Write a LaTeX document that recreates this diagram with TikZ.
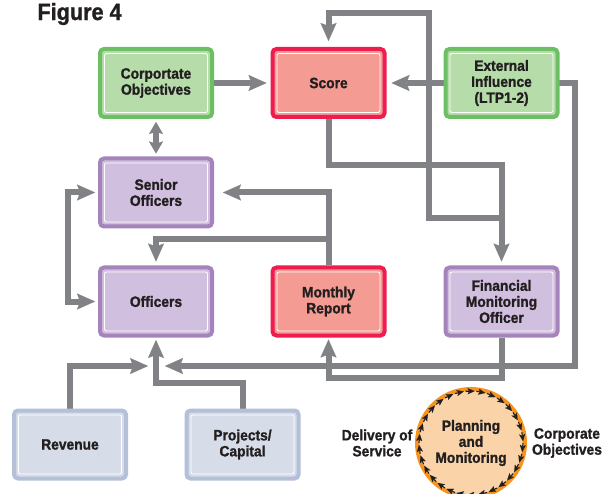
\documentclass[tikz,border=0pt]{standalone}
\usepackage{fontspec}
\setmainfont[FakeStretch=0.92, BoldFeatures={FakeBold=1.3}]{Liberation Sans}
\usetikzlibrary{arrows.meta,calc}
\pgfdeclarelayer{paper}
\pgfdeclarelayer{bg}
\pgfsetlayers{paper,bg,main}

\definecolor{ink}{HTML}{231F20}
\definecolor{wire}{HTML}{808285}
\definecolor{greenfill}{HTML}{B6DCAA}
\definecolor{greenline}{HTML}{6CC063}
\definecolor{redfill}{HTML}{F49C94}
\definecolor{redline}{HTML}{EE1C4F}
\definecolor{purplefill}{HTML}{D1BFDF}
\definecolor{purpleline}{HTML}{A584BB}
\definecolor{bluefill}{HTML}{D6DCE8}
\definecolor{blueline}{HTML}{B4C0D8}
\definecolor{peach}{HTML}{FAD4A8}
\definecolor{orangeline}{HTML}{F7941D}

\tikzset{
  boxtext/.style={font=\bfseries\fontsize{15}{16}\selectfont, text=ink, align=center},
  box/.style={boxtext, draw, line width=4pt, rounded corners=4pt,
    minimum width=112pt, minimum height=68pt, inner sep=0pt,
    path picture={\draw[white, line width=0.9pt, rounded corners=2pt]
      ([shift={(4.5pt,4.5pt)}]path picture bounding box.south west) rectangle
      ([shift={(-4.5pt,-4.5pt)}]path picture bounding box.north east);}},
  goalbox/.style={box, fill=greenfill, draw=greenline},
  scorebox/.style={box, fill=redfill, draw=redline},
  staffbox/.style={box, fill=purplefill, draw=purpleline},
  fundbox/.style={box, fill=bluefill, draw=blueline},
  bigtip/.tip={Stealth[length=18pt, width=16pt, inset=3pt, line width=0.01pt]},
  smalltip/.tip={Stealth[length=12pt, width=14pt, inset=2pt, line width=0.01pt]},
  link/.style={draw=wire, line width=6pt, -bigtip},
  link2/.style={draw=wire, line width=6pt, bigtip-bigtip},
  ringtip/.style={draw=ink, line width=1.1pt, -{Stealth[length=7pt, width=6pt, inset=1.5pt, line width=0.01pt]}},
}

\begin{document}
\begin{tikzpicture}[x=1pt, y=-1pt]
\useasboundingbox (0,0) rectangle (610,494);
\begin{pgfonlayer}{paper}
  \fill[white] (0,0) rectangle (610,494);
\end{pgfonlayer}

\node[font=\bfseries\fontsize{23.5}{25}\selectfont, text=ink, anchor=west] (title) at (34,14) {Figure 4};

% boxes
\node[goalbox]  (co) at (156,83)      {Corportate\\Objectives};
\node[scorebox] (sc) at (328.5,83)    {Score};
\node[goalbox]  (ex) at (501.5,83)    {External\\Influence\\(LTP1-2)};
\node[staffbox] (so) at (156,192.5)   {Senior\\Officers};
\node[staffbox] (of) at (156,301.5)   {Officers};
\node[scorebox] (mr) at (328.5,301.5) {Monthly\\Report};
\node[staffbox] (fm) at (501.5,301.5) {Financial\\Monitoring\\Officer};
\node[fundbox]  (rv) at (70,444.5)    {Revenue};
\node[fundbox]  (pc) at (242.5,444.5) {Projects/\\Capital};

% planning and monitoring cycle
\node[circle, boxtext, fill=peach, draw=orangeline, line width=4pt,
      minimum size=108pt, inner sep=0pt] (pm) at (471,443) {Planning\\and\\Monitoring};
\foreach \a in {0,12,...,359} {
  \draw[ringtip] ([shift={(\a:52pt)}]pm.center) -- ([shift={(\a-10:52pt)}]pm.center);
}
\node[boxtext] (ds) at (377,443) {Delivery of\\Service};
\node[boxtext] (cx) at (567,443) {Corporate\\Objectives};

% free ends and junctions of the connectors
\coordinate (tipL) at (148,366);
\coordinate (tipR) at (165,366);
\coordinate (tipU) at (156,340);
\coordinate (pj)   at (156,383);
\coordinate (mb)   at (328.5,239);
\coordinate (j1)   at (501.5,218);
\coordinate (topY) at (429,13);
\coordinate (exR)  at (575,366);

\begin{pgfonlayer}{bg}
  \draw[link, shorten >=4pt] (co.east) -- (sc.west);
  \draw[link, shorten >=5pt] (ex.east) -- (sc.east);
  \draw[draw=wire, line width=6pt, smalltip-smalltip, shorten <=3pt, shorten >=3pt] (co.south) -- (so.north);
  \draw[link, shorten >=4pt] (sc.south) -- ++(0,46) -| (fm.north);
  \draw[link, shorten >=6pt] (j1) -| (topY) -| (sc.north);
  \draw[link] (ex.east) -| (exR) -- (tipR);
  \draw[link, shorten >=2pt] (fm.south) -- ++(0,40) -| (mr.south);
  \draw[link] (rv.north) |- (tipL);
  \draw[link] (pc.north) |- (pj) -- (tipU);
  \draw[link, shorten >=9pt] (mr.north) |- (so.east);
  \draw[link, shorten >=4pt] (mb) -| (of.north);
  \draw[link2, shorten <=3pt, shorten >=3pt] (so.west) -- ++(-30,0) |- (of.west);
\end{pgfonlayer}
\end{tikzpicture}
\end{document}
